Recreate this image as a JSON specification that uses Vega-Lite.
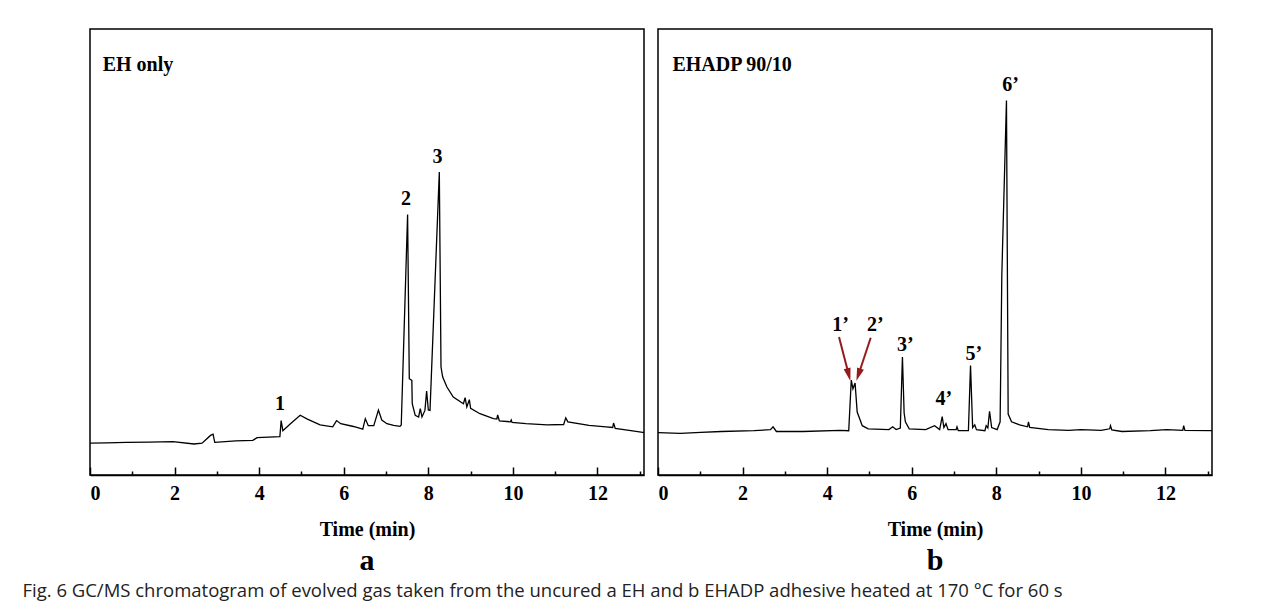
{
  "$schema": "https://vega.github.io/schema/vega-lite/v6.json",
  "padding": {"left": 22, "top": 28, "right": 0, "bottom": 6},
  "background": "white",
  "title": {
    "text": "Fig. 6  GC/MS chromatogram of evolved gas  taken from the uncured a EH and b EHADP adhesive heated at 170 °C for 60 s",
    "orient": "bottom", "anchor": "start", "font": "Open Sans", "fontSize": 18.5,
    "fontWeight": "normal", "color": "#222222", "dx": -64.2, "offset": 5
  },
  "spacing": 14,
  "bounds": "flush",
  "config": {
    "view": {"stroke": "black", "strokeWidth": 1.5},
    "axis": {
      "labelFont": "Liberation Serif", "labelFontSize": 20, "labelFontWeight": "bold", "labelColor": "black",
      "titleFont": "Liberation Serif", "titleFontSize": 20, "titleFontWeight": "bold", "titleColor": "black",
      "domainColor": "black", "domainWidth": 1.5, "tickColor": "black", "tickWidth": 1.5,
      "grid": false, "labelPadding": 16, "titlePadding": 16
    }
  },
  "datasets": {
    "traceA": [
      {"t": 0, "v": 31.8}, {"t": 0.4, "v": 32.2}, {"t": 0.86, "v": 32.6}, {"t": 1.4, "v": 32.9}, {"t": 1.96, "v": 33.4},
      {"t": 2.46, "v": 31}, {"t": 2.65, "v": 31.8}, {"t": 2.85, "v": 39.6}, {"t": 2.91, "v": 40.8}, {"t": 2.95, "v": 32.6},
      {"t": 3.45, "v": 34.2}, {"t": 3.85, "v": 34.6}, {"t": 3.95, "v": 37.3}, {"t": 4.49, "v": 38.4}, {"t": 4.52, "v": 54.4},
      {"t": 4.56, "v": 44.3}, {"t": 4.74, "v": 51.3}, {"t": 4.97, "v": 59.8}, {"t": 5.14, "v": 55.9}, {"t": 5.44, "v": 50.1},
      {"t": 5.74, "v": 48.2}, {"t": 5.83, "v": 54.4}, {"t": 5.93, "v": 51.3}, {"t": 6.23, "v": 48.5}, {"t": 6.45, "v": 45.8},
      {"t": 6.51, "v": 56.3}, {"t": 6.58, "v": 49.3}, {"t": 6.71, "v": 49.3}, {"t": 6.82, "v": 64.9}, {"t": 6.9, "v": 55},
      {"t": 7.02, "v": 51.3}, {"t": 7.18, "v": 49.6}, {"t": 7.33, "v": 48.6}, {"t": 7.36, "v": 50}, {"t": 7.51, "v": 260.6},
      {"t": 7.55, "v": 96.3}, {"t": 7.61, "v": 94.6}, {"t": 7.62, "v": 71.3}, {"t": 7.69, "v": 59.6}, {"t": 7.77, "v": 58},
      {"t": 7.81, "v": 66.3}, {"t": 7.85, "v": 58}, {"t": 7.92, "v": 64.6}, {"t": 7.96, "v": 84}, {"t": 8.0, "v": 65},
      {"t": 8.04, "v": 64.6}, {"t": 8.26, "v": 302.9}, {"t": 8.3, "v": 108}, {"t": 8.34, "v": 98}, {"t": 8.44, "v": 88},
      {"t": 8.59, "v": 78}, {"t": 8.83, "v": 71.3}, {"t": 8.87, "v": 77.3}, {"t": 8.91, "v": 68}, {"t": 8.97, "v": 75.3},
      {"t": 9.0, "v": 66.6}, {"t": 9.22, "v": 61.3}, {"t": 9.54, "v": 56.3}, {"t": 9.62, "v": 56}, {"t": 9.64, "v": 60},
      {"t": 9.68, "v": 54}, {"t": 9.94, "v": 53.2}, {"t": 9.96, "v": 55}, {"t": 9.98, "v": 52.5}, {"t": 10.31, "v": 51.3},
      {"t": 10.81, "v": 50.1}, {"t": 11.2, "v": 50.5}, {"t": 11.25, "v": 57.1}, {"t": 11.3, "v": 53.2}, {"t": 11.8, "v": 49.7},
      {"t": 12.2, "v": 48.2}, {"t": 12.36, "v": 47.5}, {"t": 12.38, "v": 52}, {"t": 12.42, "v": 46.6}, {"t": 12.79, "v": 44.3},
      {"t": 13.07, "v": 42.7}, {"t": 13.1, "v": 42.5}
    ],
    "traceB": [
      {"t": 0, "v": 42.3}, {"t": 0.53, "v": 41.6}, {"t": 1.01, "v": 42.7}, {"t": 1.5, "v": 43.5}, {"t": 2.27, "v": 44.3},
      {"t": 2.66, "v": 45.4}, {"t": 2.72, "v": 48.2}, {"t": 2.8, "v": 43.5}, {"t": 3.43, "v": 43.5}, {"t": 4.3, "v": 44.7},
      {"t": 4.51, "v": 44.3}, {"t": 4.57, "v": 94.8}, {"t": 4.61, "v": 86.2}, {"t": 4.66, "v": 92}, {"t": 4.71, "v": 62.9},
      {"t": 4.83, "v": 49.3}, {"t": 4.97, "v": 46.2}, {"t": 5.46, "v": 45.4}, {"t": 5.55, "v": 48.2}, {"t": 5.63, "v": 45.4},
      {"t": 5.73, "v": 47}, {"t": 5.78, "v": 118}, {"t": 5.82, "v": 62}, {"t": 5.85, "v": 53.2}, {"t": 5.94, "v": 46.2},
      {"t": 6.33, "v": 45.4}, {"t": 6.54, "v": 49.3}, {"t": 6.66, "v": 45.4}, {"t": 6.72, "v": 58.3}, {"t": 6.76, "v": 47.4},
      {"t": 6.81, "v": 51.3}, {"t": 6.86, "v": 45.4}, {"t": 7.05, "v": 45.4}, {"t": 7.07, "v": 48.2}, {"t": 7.1, "v": 44.3},
      {"t": 7.34, "v": 44.3}, {"t": 7.39, "v": 109.5}, {"t": 7.44, "v": 47.4}, {"t": 7.49, "v": 50.1}, {"t": 7.53, "v": 45.4},
      {"t": 7.73, "v": 44.3}, {"t": 7.76, "v": 49.3}, {"t": 7.8, "v": 47}, {"t": 7.84, "v": 63.7}, {"t": 7.89, "v": 47.4},
      {"t": 8.02, "v": 45.4}, {"t": 8.09, "v": 53.2}, {"t": 8.13, "v": 200}, {"t": 8.24, "v": 374.4}, {"t": 8.28, "v": 61},
      {"t": 8.36, "v": 53.2}, {"t": 8.55, "v": 50.1}, {"t": 8.74, "v": 48.2}, {"t": 8.76, "v": 53.2}, {"t": 8.79, "v": 47.5},
      {"t": 9.23, "v": 45.4}, {"t": 9.71, "v": 44.7}, {"t": 10.0, "v": 45.4}, {"t": 10.48, "v": 44.7}, {"t": 10.68, "v": 46.2},
      {"t": 10.7, "v": 49.3}, {"t": 10.73, "v": 45}, {"t": 10.97, "v": 43.5}, {"t": 11.64, "v": 44.3}, {"t": 12.03, "v": 45.4},
      {"t": 12.41, "v": 44.7}, {"t": 12.43, "v": 49.3}, {"t": 12.46, "v": 44.7}, {"t": 13.1, "v": 44.3}
    ],
    "headA": [{"t": 0.3, "v": 410, "label": "EH only"}],
    "headB": [{"t": 0.34, "v": 410, "label": "EHADP 90/10"}],
    "labelsA": [
      {"t": 4.49, "v": 70.7, "label": "1"},
      {"t": 7.47, "v": 275.7, "label": "2"},
      {"t": 8.22, "v": 318.4, "label": "3"}
    ],
    "labelsB": [
      {"t": 4.32, "v": 150.3, "label": "1’"},
      {"t": 5.14, "v": 150.3, "label": "2’"},
      {"t": 5.85, "v": 130, "label": "3’"},
      {"t": 6.76, "v": 75.7, "label": "4’"},
      {"t": 7.47, "v": 121, "label": "5’"},
      {"t": 8.34, "v": 390, "label": "6’"}
    ],
    "arrows": [
      {"id": 1, "t": 4.28, "v": 137.9, "t2": 4.51, "v2": 100.4},
      {"id": 2, "t": 5.03, "v": 137.3, "t2": 4.74, "v2": 100.3}
    ]
  },
  "hconcat": [
    {
      "width": 554, "height": 446,
      "title": {"text": "a", "orient": "bottom", "font": "Liberation Serif", "fontSize": 30, "fontWeight": "bold", "color": "black", "offset": 7, "anchor": "middle"},
      "resolve": {"axis": {"x": "independent"}},
      "layer": [
        {
          "data": {"name": "traceA"},
          "mark": {"type": "line", "color": "black", "strokeWidth": 1.3},
          "encoding": {
            "x": {"field": "t", "type": "quantitative", "scale": {"domain": [0, 13.1], "nice": false},
                  "axis": {"orient": "bottom", "values": [0, 2, 4, 6, 8, 10, 12], "title": "Time (min)", "tickSize": -8}},
            "y": {"field": "v", "type": "quantitative", "scale": {"domain": [0, 446], "nice": false}, "axis": null}
          }
        },
        {
          "data": {"name": "traceA"},
          "mark": {"type": "line", "opacity": 0},
          "encoding": {
            "x": {"field": "t", "type": "quantitative",
                  "axis": {"orient": "bottom", "values": [1, 3, 5, 7, 9, 11, 13], "labels": false, "domain": false, "title": null, "tickSize": -4}},
            "y": {"field": "v", "type": "quantitative", "axis": null}
          }
        },
        {
          "data": {"name": "labelsA"},
          "mark": {"type": "text", "font": "Liberation Serif", "fontWeight": "bold", "fontSize": 20, "baseline": "middle", "align": "center", "color": "black"},
          "encoding": {
            "x": {"field": "t", "type": "quantitative", "axis": null},
            "y": {"field": "v", "type": "quantitative", "axis": null},
            "text": {"field": "label"}
          }
        },
        {
          "data": {"name": "headA"},
          "mark": {"type": "text", "font": "Liberation Serif", "fontWeight": "bold", "fontSize": 20, "baseline": "middle", "align": "left", "color": "black"},
          "encoding": {
            "x": {"field": "t", "type": "quantitative", "axis": null},
            "y": {"field": "v", "type": "quantitative", "axis": null},
            "text": {"field": "label"}
          }
        }
      ]
    },
    {
      "width": 554, "height": 446,
      "title": {"text": "b", "orient": "bottom", "font": "Liberation Serif", "fontSize": 30, "fontWeight": "bold", "color": "black", "offset": 7, "anchor": "middle"},
      "resolve": {"axis": {"x": "independent"}},
      "layer": [
        {
          "data": {"name": "traceB"},
          "mark": {"type": "line", "color": "black", "strokeWidth": 1.3},
          "encoding": {
            "x": {"field": "t", "type": "quantitative", "scale": {"domain": [0, 13.1], "nice": false},
                  "axis": {"orient": "bottom", "values": [0, 2, 4, 6, 8, 10, 12], "title": "Time (min)", "tickSize": -8}},
            "y": {"field": "v", "type": "quantitative", "scale": {"domain": [0, 446], "nice": false}, "axis": null}
          }
        },
        {
          "data": {"name": "traceB"},
          "mark": {"type": "line", "opacity": 0},
          "encoding": {
            "x": {"field": "t", "type": "quantitative",
                  "axis": {"orient": "bottom", "values": [1, 3, 5, 7, 9, 11, 13], "labels": false, "domain": false, "title": null, "tickSize": -4}},
            "y": {"field": "v", "type": "quantitative", "axis": null}
          }
        },
        {
          "data": {"name": "arrows"},
          "mark": {"type": "rule", "color": "#951b1b", "strokeWidth": 2},
          "encoding": {
            "x": {"field": "t", "type": "quantitative", "axis": null},
            "y": {"field": "v", "type": "quantitative", "axis": null},
            "x2": {"field": "t2"},
            "y2": {"field": "v2"}
          }
        },
        {
          "data": {"name": "arrows"},
          "transform": [{"filter": "datum.id == 1"}],
          "mark": {"type": "point", "shape": "M-0.55,-1L0.55,-1L0,1Z", "filled": true, "color": "#951b1b", "opacity": 1, "size": 169, "angle": -14.7},
          "encoding": {
            "x": {"field": "t2", "type": "quantitative", "axis": null},
            "y": {"field": "v2", "type": "quantitative", "axis": null}
          }
        },
        {
          "data": {"name": "arrows"},
          "transform": [{"filter": "datum.id == 2"}],
          "mark": {"type": "point", "shape": "M-0.55,-1L0.55,-1L0,1Z", "filled": true, "color": "#951b1b", "opacity": 1, "size": 169, "angle": 18.2},
          "encoding": {
            "x": {"field": "t2", "type": "quantitative", "axis": null},
            "y": {"field": "v2", "type": "quantitative", "axis": null}
          }
        },
        {
          "data": {"name": "labelsB"},
          "mark": {"type": "text", "font": "Liberation Serif", "fontWeight": "bold", "fontSize": 20, "baseline": "middle", "align": "center", "color": "black"},
          "encoding": {
            "x": {"field": "t", "type": "quantitative", "axis": null},
            "y": {"field": "v", "type": "quantitative", "axis": null},
            "text": {"field": "label"}
          }
        },
        {
          "data": {"name": "headB"},
          "mark": {"type": "text", "font": "Liberation Serif", "fontWeight": "bold", "fontSize": 20, "baseline": "middle", "align": "left", "color": "black"},
          "encoding": {
            "x": {"field": "t", "type": "quantitative", "axis": null},
            "y": {"field": "v", "type": "quantitative", "axis": null},
            "text": {"field": "label"}
          }
        }
      ]
    }
  ]
}
